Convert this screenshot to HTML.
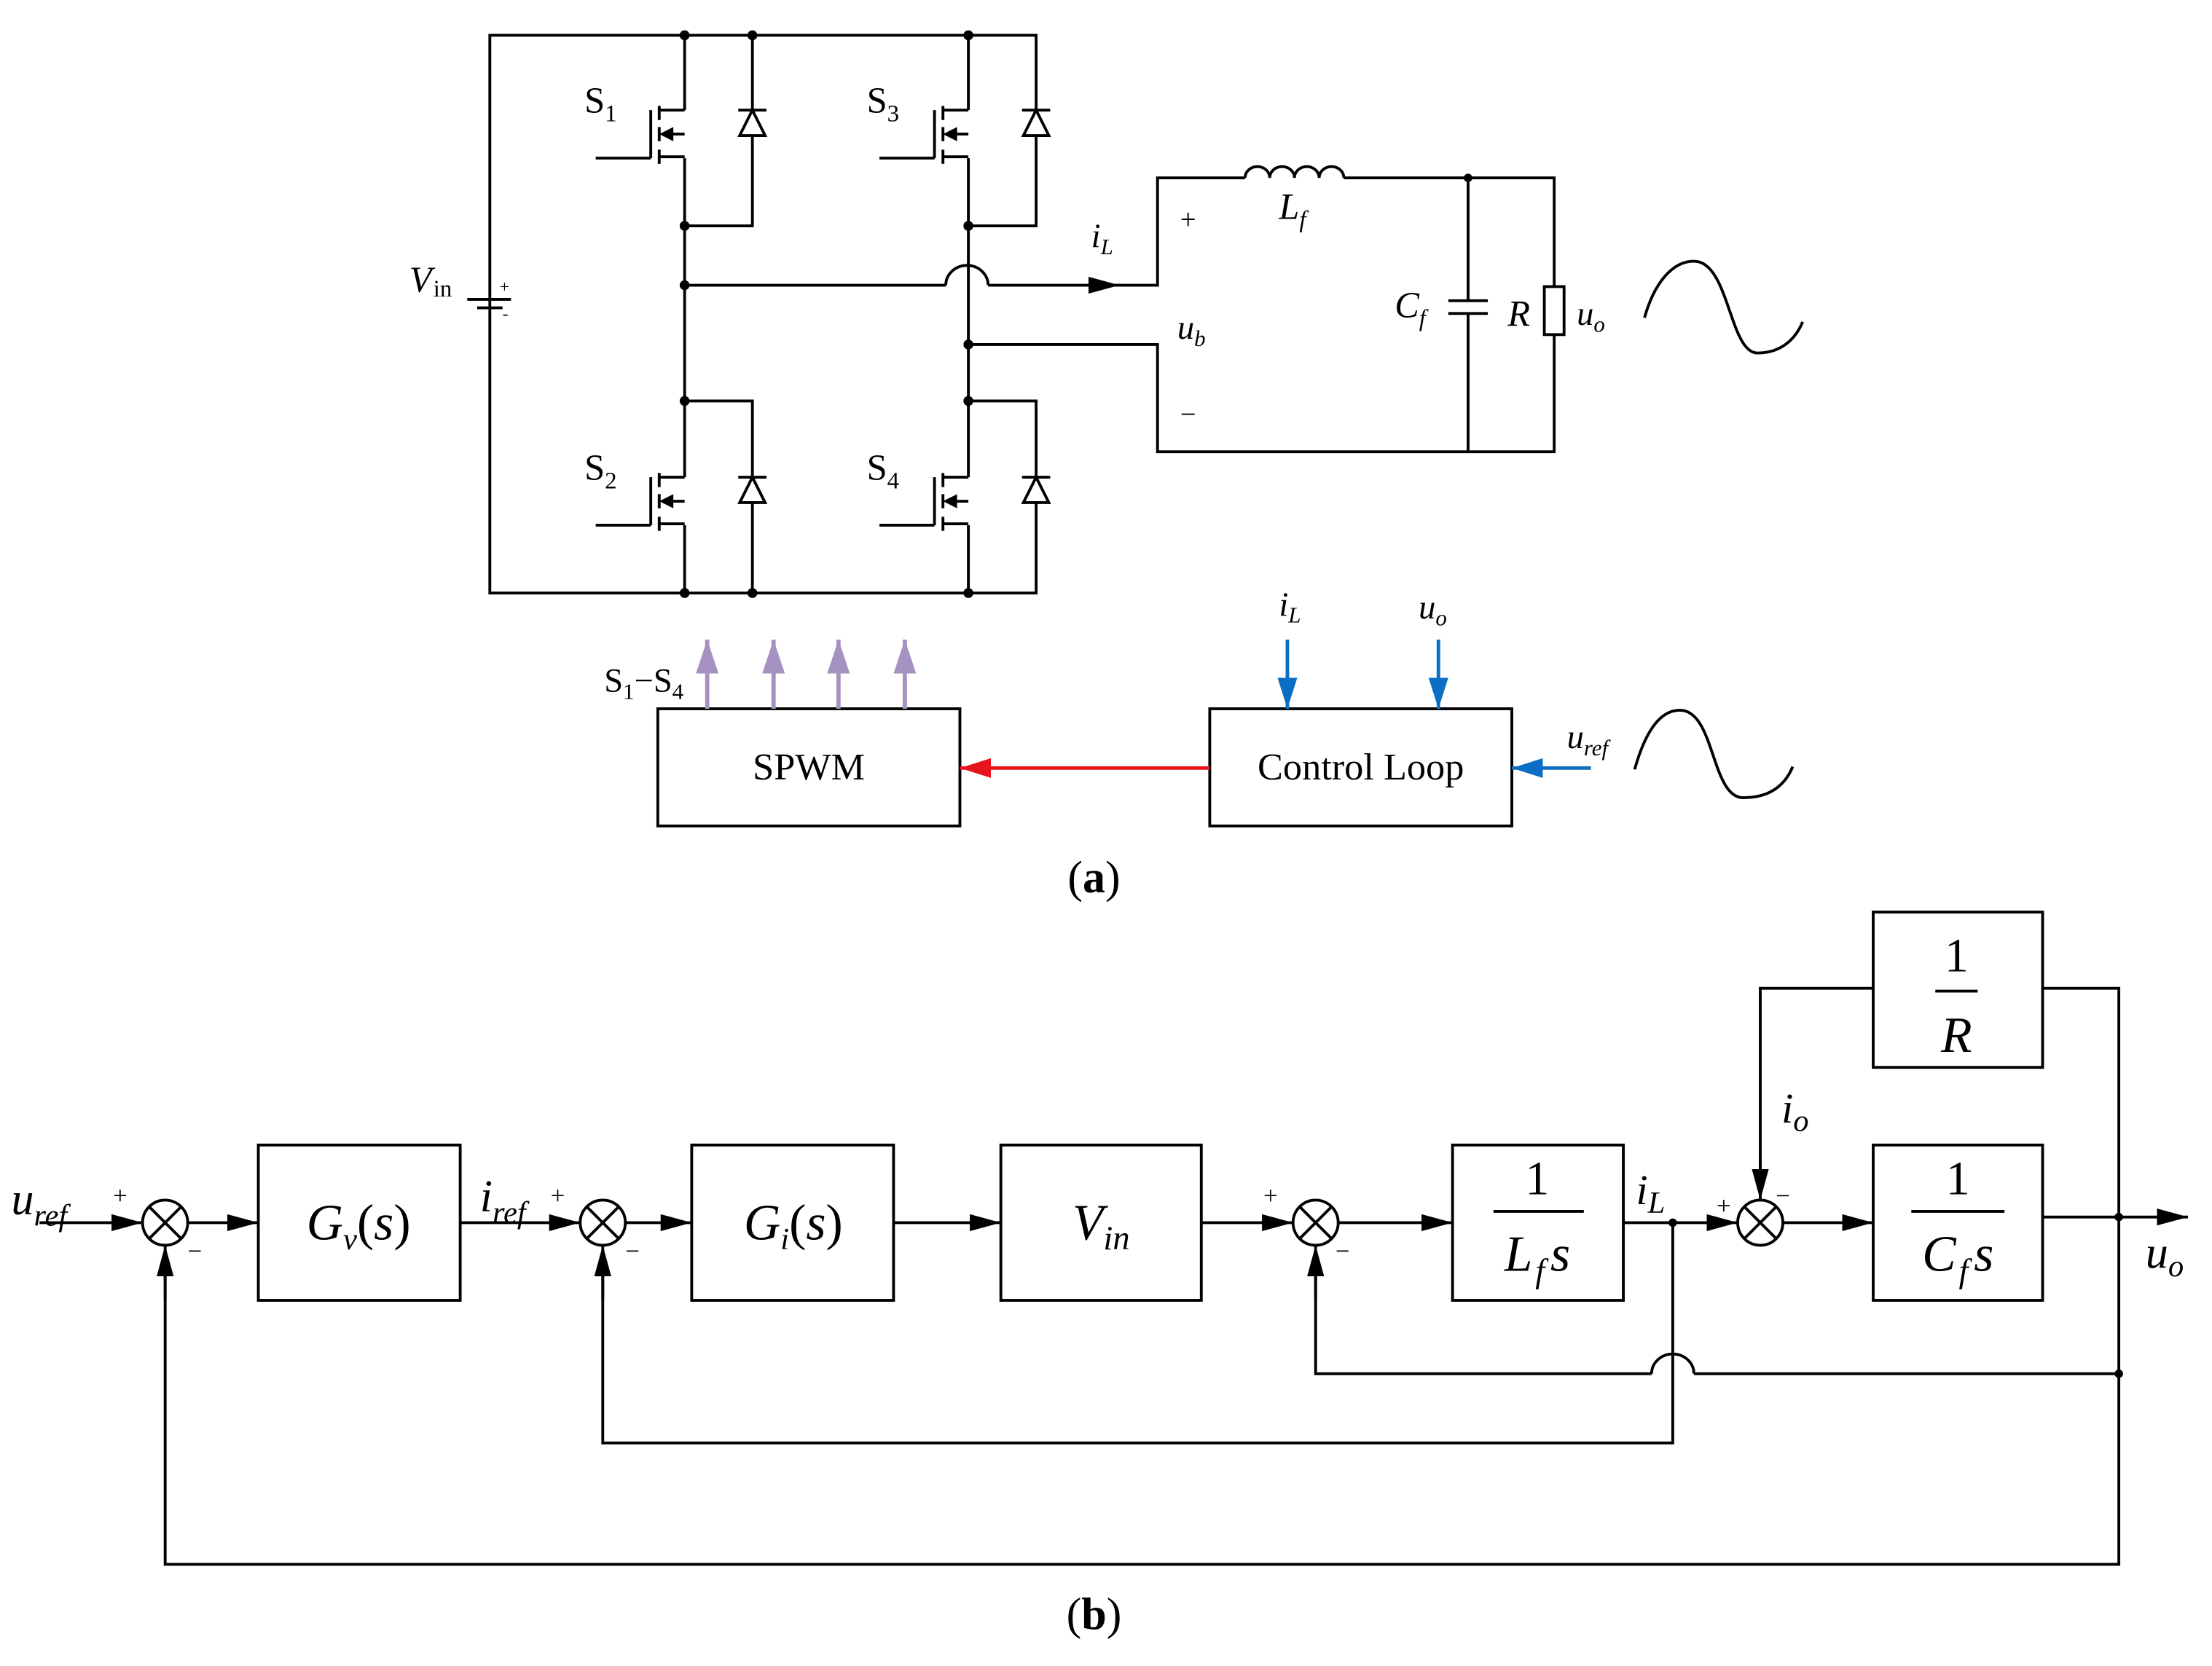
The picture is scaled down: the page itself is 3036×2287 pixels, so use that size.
<!DOCTYPE html>
<html><head><meta charset="utf-8"><style>
html,body{margin:0;padding:0;background:#fff;}
svg{display:block;}
text{font-family:"Liberation Serif",serif;fill:#000;}
.it{font-style:italic;}
</style></head><body>
<svg width="3036" height="2287" viewBox="0 0 1567 1180" preserveAspectRatio="none" xmlns="http://www.w3.org/2000/svg">
<defs>
<marker id="ak2" markerWidth="22" markerHeight="12" refX="22" refY="6" orient="auto" markerUnits="userSpaceOnUse"><path d="M0,0 L22,6 L0,12 Z" fill="#000"/></marker>
<marker id="ar" markerWidth="22" markerHeight="14" refX="22" refY="7" orient="auto" markerUnits="userSpaceOnUse"><path d="M0,0 L22,7 L0,14 Z" fill="#e8141b"/></marker>
<marker id="ab" markerWidth="22" markerHeight="14" refX="22" refY="7" orient="auto" markerUnits="userSpaceOnUse"><path d="M0,0 L22,7 L0,14 Z" fill="#0a6ec2"/></marker>
<marker id="ap" markerWidth="24" markerHeight="16" refX="24" refY="8" orient="auto" markerUnits="userSpaceOnUse"><path d="M0,0 L24,8 L0,16 Z" fill="#a592c2"/></marker>
<g id="mos">
<line x1="-24" y1="-34" x2="-24" y2="0" stroke="#000" stroke-width="2"/>
<line x1="-18" y1="-37" x2="-18" y2="-27" stroke="#000" stroke-width="2"/>
<line x1="-18" y1="-22" x2="-18" y2="-12" stroke="#000" stroke-width="2"/>
<line x1="-18" y1="-6" x2="-18" y2="4" stroke="#000" stroke-width="2"/>
<line x1="-18" y1="-34" x2="0" y2="-34" stroke="#000" stroke-width="2"/>
<line x1="-18" y1="-1" x2="0" y2="-1" stroke="#000" stroke-width="2"/>
<line x1="-12" y1="-17" x2="0" y2="-17" stroke="#000" stroke-width="2"/>
<path d="M-18,-17 L-8,-22 L-8,-12 Z" fill="#000"/>
<line x1="-63" y1="0" x2="-24" y2="0" stroke="#000" stroke-width="2"/>
</g>
<g id="dio">
<path d="M-9,18 L9,18 L0,0 Z" fill="#fff" stroke="#000" stroke-width="2"/>
<line x1="-10" y1="0" x2="10" y2="0" stroke="#000" stroke-width="2"/>
</g>
</defs>
<rect width="1567" height="1180" fill="#fff"/>
<g stroke="#000" stroke-width="2" fill="none">
<polyline points="347,212 347,25 734,25 734,160 686,160"/>
<polyline points="347,218 347,420 734,420 734,284 686,284"/>
<line x1="485" y1="25" x2="485" y2="78"/>
<line x1="485" y1="112" x2="485" y2="338"/>
<line x1="485" y1="372" x2="485" y2="420"/>
<line x1="686" y1="25" x2="686" y2="78"/>
<line x1="686" y1="112" x2="686" y2="338"/>
<line x1="686" y1="372" x2="686" y2="420"/>
<polyline points="533,25 533,160 485,160"/>
<polyline points="485,284 533,284 533,420"/>
<line x1="331" y1="212" x2="362" y2="212"/>
<line x1="338" y1="218" x2="356" y2="218"/>
<line x1="347" y1="212" x2="347" y2="218"/>
<polyline points="485,202 670,202"/>
<path d="M670,202 A15,14 0 0 1 700,202"/>
<polyline points="700,202 820,202 820,126 882,126"/>
<path d="M882,126 a8.75,8 0 0 1 17.5,0 a8.75,8 0 0 1 17.5,0 a8.75,8 0 0 1 17.5,0 a8.75,8 0 0 1 17.5,0"/>
<polyline points="952,126 1101,126 1101,203"/>
<polyline points="1101,237 1101,320 820,320 820,244 686,244"/>
<line x1="1040" y1="126" x2="1040" y2="213"/>
<line x1="1040" y1="222" x2="1040" y2="320"/>
<line x1="1026" y1="213" x2="1054" y2="213"/>
<line x1="1026" y1="222" x2="1054" y2="222"/>
<rect x="1094" y="203" width="14" height="34"/>
<path d="M1165,225 C1172,200 1185,185 1200,185 C1225,185 1225,250 1245,250 C1262,250 1272,240 1277,228"/>
<path d="M1158,545 C1165,520 1175,503 1190,503 C1215,503 1212,565 1235,565 C1255,565 1265,555 1270,543"/>
<rect x="466" y="502" width="214" height="83"/>
<rect x="857" y="502" width="214" height="83"/>
</g>
<line x1="770" y1="202" x2="793" y2="202" stroke="#000" stroke-width="2" marker-end="url(#ak2)"/>
<use href="#mos" x="485" y="112"/>
<use href="#mos" x="485" y="372"/>
<use href="#mos" x="686" y="112"/>
<use href="#mos" x="686" y="372"/>
<use href="#dio" x="533" y="78"/>
<use href="#dio" x="533" y="338"/>
<use href="#dio" x="734" y="78"/>
<use href="#dio" x="734" y="338"/>
<g fill="#000">
<circle cx="485" cy="25" r="3.5"/><circle cx="533" cy="25" r="3.5"/><circle cx="686" cy="25" r="3.5"/>
<circle cx="485" cy="160" r="3.5"/><circle cx="686" cy="160" r="3.5"/><circle cx="485" cy="202" r="3.5"/>
<circle cx="686" cy="244" r="3.5"/><circle cx="485" cy="284" r="3.5"/><circle cx="686" cy="284" r="3.5"/>
<circle cx="485" cy="420" r="3.5"/><circle cx="533" cy="420" r="3.5"/><circle cx="686" cy="420" r="3.5"/>
<circle cx="1040" cy="126" r="3"/>
</g>
<text x="354" y="207" font-size="12">+</text><text x="356" y="226" font-size="12">-</text>
<text x="290" y="207" font-size="26" class="it">V</text><text x="307" y="210" font-size="17">in</text>
<text x="414" y="80" font-size="26">S<tspan font-size="17" dy="6">1</tspan></text>
<text x="614" y="80" font-size="26">S<tspan font-size="17" dy="6">3</tspan></text>
<text x="414" y="340" font-size="26">S<tspan font-size="17" dy="6">2</tspan></text>
<text x="614" y="340" font-size="26">S<tspan font-size="17" dy="6">4</tspan></text>
<text x="773" y="175" font-size="24" class="it">i<tspan font-size="16" dy="5">L</tspan></text>
<text x="836" y="162" font-size="20">+</text>
<text x="836" y="300" font-size="20">−</text>
<text x="906" y="155" font-size="26" class="it">L<tspan font-size="17" dy="6">f</tspan></text>
<text x="988" y="225" font-size="26" class="it">C<tspan font-size="17" dy="6">f</tspan></text>
<text x="1068" y="231" font-size="26" class="it">R</text>
<text x="1117" y="230" font-size="24" class="it">u<tspan font-size="16" dy="5">o</tspan></text>
<text x="834" y="240" font-size="24" class="it">u<tspan font-size="16" dy="5">b</tspan></text>
<g stroke="#a592c2" stroke-width="3">
<line x1="501" y1="502" x2="501" y2="453" marker-end="url(#ap)"/>
<line x1="548" y1="502" x2="548" y2="453" marker-end="url(#ap)"/>
<line x1="594" y1="502" x2="594" y2="453" marker-end="url(#ap)"/>
<line x1="641" y1="502" x2="641" y2="453" marker-end="url(#ap)"/>
</g>
<line x1="857" y1="544" x2="680" y2="544" stroke="#e8141b" stroke-width="2.5" marker-end="url(#ar)"/>
<g stroke="#0a6ec2" stroke-width="2.5">
<line x1="912" y1="453" x2="912" y2="502" marker-end="url(#ab)"/>
<line x1="1019" y1="453" x2="1019" y2="502" marker-end="url(#ab)"/>
<line x1="1127" y1="544" x2="1071" y2="544" marker-end="url(#ab)"/>
</g>
<text x="428" y="490" font-size="24">S<tspan font-size="16" dy="5">1</tspan><tspan dy="-5">−S</tspan><tspan font-size="16" dy="5">4</tspan></text>
<text x="573" y="552" font-size="27" text-anchor="middle">SPWM</text>
<text x="964" y="552" font-size="27" text-anchor="middle">Control Loop</text>
<text x="906" y="436" font-size="24" class="it">i<tspan font-size="16" dy="5">L</tspan></text>
<text x="1005" y="438" font-size="24" class="it">u<tspan font-size="16" dy="5">o</tspan></text>
<text x="1110" y="530" font-size="24" class="it">u<tspan font-size="16" dy="5">ref</tspan></text>
<text x="775" y="632" font-size="32" text-anchor="middle">(<tspan font-weight="bold">a</tspan>)</text>
<g stroke="#000" stroke-width="2" fill="none">
<rect x="183" y="811" width="143" height="110"/>
<rect x="490" y="811" width="143" height="110"/>
<rect x="709" y="811" width="142" height="110"/>
<rect x="1029" y="811" width="121" height="110"/>
<rect x="1327" y="811" width="120" height="110"/>
<rect x="1327" y="646" width="120" height="110"/>
<circle cx="117" cy="866" r="16"/><circle cx="427" cy="866" r="16"/><circle cx="932" cy="866" r="16"/><circle cx="1247" cy="866" r="16"/>
<path d="M106,855 L128,877 M128,855 L106,877 M416,855 L438,877 M438,855 L416,877 M921,855 L943,877 M943,855 L921,877 M1236,855 L1258,877 M1258,855 L1236,877"/>
<polyline points="1447,862 1501,862"/>
<polyline points="1447,700 1501,700 1501,1108 117,1108 117,903"/>
<polyline points="1501,973 1200,973"/>
<path d="M1170,973 A15,14 0 0 1 1200,973"/>
<polyline points="1170,973 932,973 932,903"/>
<polyline points="1185,866 1185,1022 427,1022 427,903"/>
<polyline points="1327,700 1247,700 1247,830"/>
</g>
<g stroke="#000" stroke-width="2">
<line x1="28" y1="866" x2="101" y2="866" marker-end="url(#ak2)"/>
<line x1="133" y1="866" x2="183" y2="866" marker-end="url(#ak2)"/>
<line x1="326" y1="866" x2="411" y2="866" marker-end="url(#ak2)"/>
<line x1="443" y1="866" x2="490" y2="866" marker-end="url(#ak2)"/>
<line x1="633" y1="866" x2="709" y2="866" marker-end="url(#ak2)"/>
<line x1="851" y1="866" x2="916" y2="866" marker-end="url(#ak2)"/>
<line x1="948" y1="866" x2="1029" y2="866" marker-end="url(#ak2)"/>
<line x1="1150" y1="866" x2="1231" y2="866" marker-end="url(#ak2)"/>
<line x1="1263" y1="866" x2="1327" y2="866" marker-end="url(#ak2)"/>
<line x1="1501" y1="862" x2="1550" y2="862" marker-end="url(#ak2)"/>
<line x1="117" y1="920" x2="117" y2="882" marker-end="url(#ak2)"/>
<line x1="427" y1="920" x2="427" y2="882" marker-end="url(#ak2)"/>
<line x1="932" y1="920" x2="932" y2="882" marker-end="url(#ak2)"/>
<line x1="1247" y1="820" x2="1247" y2="850" marker-end="url(#ak2)"/>
</g>
<g fill="#000"><circle cx="1185" cy="866" r="3"/><circle cx="1501" cy="862" r="3"/><circle cx="1501" cy="973" r="3"/></g>
<g stroke="#000" stroke-width="2">
<line x1="1058" y1="858" x2="1122" y2="858"/>
<line x1="1354" y1="858" x2="1420" y2="858"/>
<line x1="1371" y1="702" x2="1401" y2="702"/>
</g>
<text x="8" y="860" font-size="32" class="it">u<tspan font-size="22" dy="8">ref</tspan></text>
<text x="80" y="853" font-size="18">+</text><text x="133" y="892" font-size="18">−</text>
<text x="340" y="858" font-size="32" class="it">i<tspan font-size="22" dy="8">ref</tspan></text>
<text x="390" y="853" font-size="18">+</text><text x="443" y="892" font-size="18">−</text>
<text x="895" y="853" font-size="18">+</text><text x="946" y="892" font-size="18">−</text>
<text x="1216" y="860" font-size="18">+</text><text x="1258" y="853" font-size="18">−</text>
<text x="254" y="878" font-size="36" text-anchor="middle"><tspan class="it">G</tspan><tspan class="it" font-size="22" dy="7">v</tspan><tspan dy="-7">(</tspan><tspan class="it">s</tspan>)</text>
<text x="562" y="878" font-size="36" text-anchor="middle"><tspan class="it">G</tspan><tspan class="it" font-size="22" dy="7">i</tspan><tspan dy="-7">(</tspan><tspan class="it">s</tspan>)</text>
<text x="780" y="878" font-size="36" text-anchor="middle" class="it">V<tspan font-size="24" dy="7">in</tspan></text>
<text x="1089" y="846" font-size="34" text-anchor="middle">1</text>
<text x="1089" y="900" font-size="36" text-anchor="middle" class="it">L<tspan font-size="24" dy="8" dx="2">f</tspan><tspan dy="-8" dx="4">s</tspan></text>
<text x="1387" y="846" font-size="34" text-anchor="middle">1</text>
<text x="1387" y="900" font-size="36" text-anchor="middle" class="it">C<tspan font-size="24" dy="8" dx="2">f</tspan><tspan dy="-8" dx="4">s</tspan></text>
<text x="1386" y="688" font-size="34" text-anchor="middle">1</text>
<text x="1386" y="745" font-size="36" text-anchor="middle" class="it">R</text>
<text x="1159" y="853" font-size="30" class="it">i<tspan font-size="22" dy="6">L</tspan></text>
<text x="1262" y="795" font-size="30" class="it">i<tspan font-size="22" dy="6">o</tspan></text>
<text x="1520" y="898" font-size="32" class="it">u<tspan font-size="22" dy="6">o</tspan></text>
<text x="775" y="1154" font-size="32" text-anchor="middle">(<tspan font-weight="bold">b</tspan>)</text>
</svg>
</body></html>
